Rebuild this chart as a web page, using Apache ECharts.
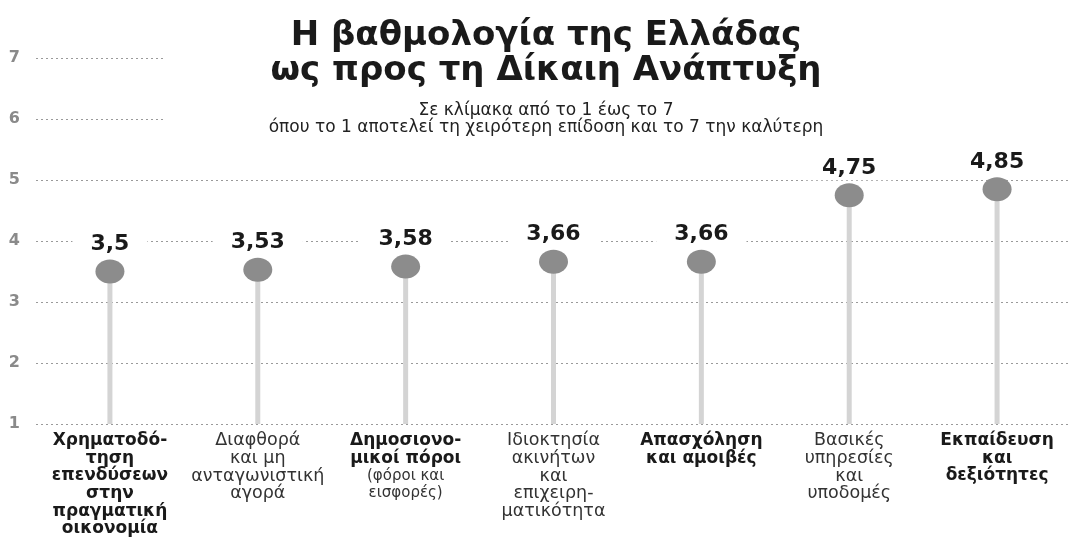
<!DOCTYPE html>
<html>
<head>
<meta charset="utf-8">
<script src="https://cdn.jsdelivr.net/npm/echarts@6/dist/echarts.min.js"></script>
<style>
html,body{margin:0;padding:0;background:#fff;}
#c{width:1071px;height:542px;}
</style>
</head>
<body>
<div id="c"></div>
<script>
const titleLines = "Η βαθμολογία της Ελλάδας\nως προς τη Δίκαιη Ανάπτυξη";
const subtitleLines = "Σε κλίμακα από το 1 έως το 7\nόπου το 1 αποτελεί τη χειρότερη επίδοση και το 7 την καλύτερη";
const categories = [
  "Χρηματοδό-\nτηση\nεπενδύσεων\nστην\nπραγματική\nοικονομία",
  "Διαφθορά\nκαι μη\nανταγωνιστική\nαγορά",
  "Δημοσιονο-\nμικοί πόροι\n(φόροι και\nεισφορές)",
  "Ιδιοκτησία\nακινήτων\nκαι\nεπιχειρη-\nματικότητα",
  "Απασχόληση\nκαι αμοιβές",
  "Βασικές\nυπηρεσίες\nκαι\nυποδομές",
  "Εκπαίδευση\nκαι\nδεξιότητες"
];
const scores = [3.5, 3.53, 3.58, 3.66, 3.66, 4.75, 4.85];
const yMin = 1, yMax = 7, yStep = 1;

const chart = echarts.init(document.getElementById('c'), null, {renderer: 'canvas'});
const FONT = '"DejaVu Sans", Verdana, sans-serif';

function catFormatter(value, idx) {
  const lines = value.split('\n');
  let inParen = false;
  return lines.map(l => {
    if (l.startsWith('(')) inParen = true;
    let st = inParen ? 's' : (idx % 2 === 0 ? 'b' : 'n');
    const out = '{' + st + '|' + l + '}';
    if (l.endsWith(')')) inParen = false;
    return out;
  }).join('\n');
}

chart.setOption({
  backgroundColor: '#ffffff',
  animation: false,
  title: {
    text: titleLines,
    subtext: subtitleLines,
    left: 546,
    top: 19,
    textAlign: 'center',
    itemGap: 13,
    padding: 0,
    textStyle: {fontFamily: FONT, fontWeight: 'bold', fontSize: 34, lineHeight: 35, color: '#1a1a1a'},
    subtextStyle: {fontFamily: FONT, fontSize: 17, lineHeight: 17, color: '#222'}
  },
  graphic: [{
    type: 'rect', z: 5,
    shape: {x: 165, y: 40, width: 906, height: 100},
    style: {fill: '#ffffff'}
  }],
  grid: {left: 36, top: 58, width: 1041, bottom: 118, containLabel: false},
  xAxis: {
    type: 'category',
    data: categories,
    axisLine: {show: false},
    axisTick: {show: false},
    axisLabel: {
      interval: 0,
      margin: 8,
      verticalAlign: 'top',
      formatter: catFormatter,
      rich: {
        b: {fontFamily: FONT, fontWeight: 'bold', fontSize: 17, lineHeight: 17.6, color: '#1a1a1a'},
        n: {fontFamily: FONT, fontSize: 17.5, lineHeight: 17.6, color: '#333'},
        s: {fontFamily: FONT, fontSize: 15, lineHeight: 17, color: '#333'}
      }
    }
  },
  yAxis: {
    type: 'value',
    min: yMin, max: yMax, interval: yStep,
    axisLine: {show: false},
    axisTick: {show: false},
    axisLabel: {fontFamily: FONT, fontWeight: 'bold', fontSize: 16, color: '#8a8a8a', margin: 16},
    splitLine: {show: true, lineStyle: {color: '#9a9a9a', width: 1, type: [2, 3]}}
  },
  series: [
    {
      type: 'bar',
      data: scores,
      barWidth: 5,
      itemStyle: {color: '#d4d4d4'},
      silent: true
    },
    {
      type: 'scatter',
      data: scores,
      symbol: 'circle',
      symbolSize: [29, 24],
      itemStyle: {color: '#8c8c8c', opacity: 1},
      z: 3,
      label: {
        show: true,
        position: 'inside',
        offset: [0, -27],
        formatter: p => String(p.value).replace('.', ','),
        fontFamily: FONT, fontWeight: 'bold', fontSize: 22, color: '#1a1a1a',
        backgroundColor: '#ffffff',
        padding: [1, 18],
        opacity: 1
      }
    }
  ]
});
</script>
</body>
</html>
